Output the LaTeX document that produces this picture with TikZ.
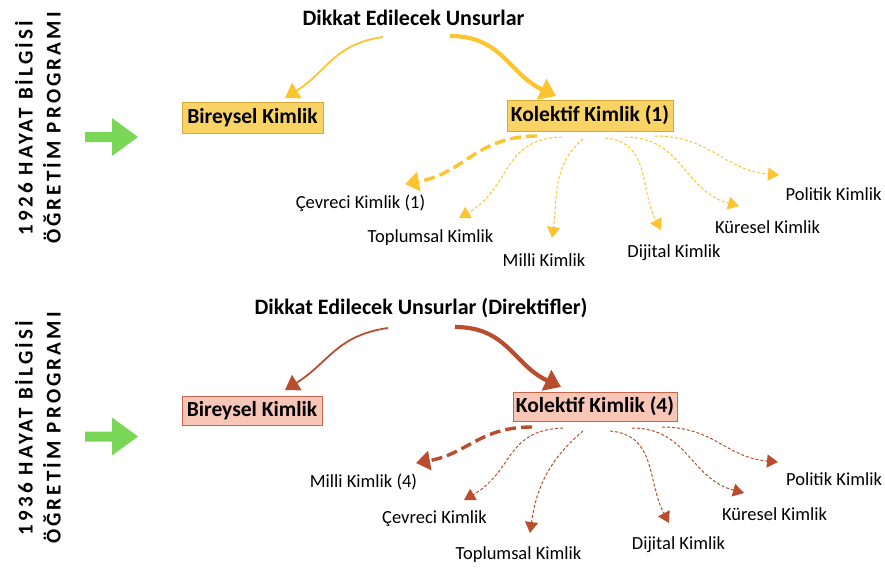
\documentclass[tikz,border=0pt]{standalone}
\usepackage{fontspec}
\setmainfont{Carlito}
\usetikzlibrary{arrows.meta}
\definecolor{gold}{RGB}{252,196,46}
\definecolor{goldfill}{RGB}{249,211,100}
\definecolor{goldline}{RGB}{214,168,58}
\definecolor{rust}{RGB}{184,78,46}
\definecolor{rustfill}{RGB}{248,198,182}
\definecolor{rustline}{RGB}{200,100,78}
\definecolor{grn}{RGB}{122,214,86}
\tikzset{
  ttl/.style={font=\fontsize{22}{24}\selectfont\bfseries, inner sep=0pt},
  lbl/.style={font=\fontsize{18.5}{21}\selectfont, inner sep=0pt},
  boxA/.style={draw=goldline, fill=goldfill, line width=0.8pt, minimum width=#1, minimum height=31pt, inner sep=0pt, font=\fontsize{21.5}{23}\selectfont\bfseries},
  boxB/.style={draw=rustline, fill=rustfill, line width=0.8pt, minimum width=#1, minimum height=29pt, inner sep=0pt, font=\fontsize{21.5}{23}\selectfont\bfseries},
  side/.style={rotate=90, align=center, inner sep=0pt, font=\fontsize{21}{28}\selectfont\bfseries\addfontfeature{LetterSpace=15}},
  thinA/.style={draw=#1, line width=1.8pt, -{Triangle[width=18pt,length=14pt]}},
  thickA/.style={draw=#1, line width=4.2pt, -{Triangle[width=22pt,length=16pt]}},
  thinD/.style={draw=#1, line width=1pt, dash pattern=on 3pt off 2pt, -{Triangle[width=13pt,length=11pt]}},
  thickD/.style={draw=#1, line width=3.4pt, dash pattern=on 11pt off 5pt, -{Triangle[width=19pt,length=14pt]}},
  garrow/.style={fill=grn, draw=none}
}
\begin{document}
\begin{tikzpicture}[x=1pt,y=1pt]
\useasboundingbox (0,0) rectangle (885,-567);
% left labels
\node[side] (s1) at (38,-128) {1926 HAYAT BİLGİSİ\\ÖĞRETİM PROGRAMI};
\node[side] (s2) at (38,-428) {1936 HAYAT BİLGİSİ\\ÖĞRETİM PROGRAMI};
\fill[garrow] (85,-132) -- (112,-132) -- (112,-118) -- (138,-137) -- (112,-156) -- (112,-142) -- (85,-142) -- cycle;
\fill[garrow] (85,-431.5) -- (112,-431.5) -- (112,-417.5) -- (138,-436.5) -- (112,-455.5) -- (112,-441.5) -- (85,-441.5) -- cycle;

% ---------- top ----------
\node[ttl] (t1) at (413.5,-18) {Dikkat Edilecek Unsurlar};
\node[boxA=141pt] (b1) at (252.5,-118) {Bireysel Kimlik};
\node[boxA=166pt] (k1) at (590,-115.5) {Kolektif Kimlik (1)};
\node[lbl] (c1) at (360.5,-203) {Çevreci Kimlik (1)};
\node[lbl] (p1) at (430.5,-238) {Toplumsal Kimlik};
\node[lbl] (m1) at (544,-260) {Milli Kimlik};
\node[lbl] (d1) at (674,-253) {Dijital Kimlik};
\node[lbl] (r1) at (767.5,-227) {Küresel Kimlik};
\node[lbl] (o1) at (833.5,-194) {Politik Kimlik};

\coordinate (t1l) at (383,-37);
\coordinate (t1r) at (450,-36);
\coordinate (b1t) at (285,-98);
\coordinate (k1t) at (556,-96);
\draw[thinA=gold] (t1l) to[out=188,in=32,looseness=1.1] (b1t);
\draw[thickA=gold] (t1r) to[out=0,in=155,looseness=1.1] (k1t);

\coordinate (k1a) at (537,-136);
\coordinate (k1b) at (562,-137);
\coordinate (k1c) at (583,-139);
\coordinate (k1d) at (605,-138);
\coordinate (k1e) at (625,-137);
\coordinate (k1f) at (655,-136);
\coordinate (c1t) at (405,-184);
\coordinate (p1t) at (459,-218);
\coordinate (m1t) at (552,-238);
\coordinate (d1t) at (661,-230);
\coordinate (r1t) at (739,-206);
\coordinate (o1t) at (779,-175);
\draw[thickD=gold] (k1a) to[out=180,in=10,looseness=1.1] (c1t);
\draw[thinD=gold] (k1b) to[out=182,in=30,looseness=1.2] (p1t);
\draw[thinD=gold] (k1c) to[out=220,in=82] (m1t);
\draw[thinD=gold] (k1d) to[out=-5,in=118,looseness=1.1] (d1t);
\draw[thinD=gold] (k1e) to[out=0,in=165,looseness=1.1] (r1t);
\draw[thinD=gold] (k1f) to[out=0,in=175,looseness=1.1] (o1t);

% ---------- bottom ----------
\node[ttl] (t2) at (421,-308) {Dikkat Edilecek Unsurlar (Direktifler)};
\node[boxB=140pt] (b2) at (252,-410.5) {Bireysel Kimlik};
\node[boxB=164pt] (k2) at (595,-406.5) {Kolektif Kimlik (4)};
\node[lbl] (m2) at (363.5,-482) {Milli Kimlik (4)};
\node[lbl] (c2) at (434.5,-519) {Çevreci Kimlik};
\node[lbl] (p2) at (518.5,-555) {Toplumsal Kimlik};
\node[lbl] (d2) at (678.5,-545) {Dijital Kimlik};
\node[lbl] (r2) at (774.5,-514) {Küresel Kimlik};
\node[lbl] (o2) at (834,-479) {Politik Kimlik};

\coordinate (t2l) at (388,-328);
\coordinate (t2r) at (455,-327);
\coordinate (b2t) at (285,-390);
\coordinate (k2t) at (561,-387);
\draw[thinA=rust] (t2l) to[out=188,in=32,looseness=1.1] (b2t);
\draw[thickA=rust] (t2r) to[out=0,in=155,looseness=1.1] (k2t);

\coordinate (k2a) at (532,-427);
\coordinate (k2b) at (563,-428);
\coordinate (k2c) at (583,-431);
\coordinate (k2d) at (610,-431);
\coordinate (k2e) at (632,-428);
\coordinate (k2f) at (662,-427);
\coordinate (m2t) at (416,-463);
\coordinate (c2t) at (464,-500);
\coordinate (p2t) at (530,-533);
\coordinate (d2t) at (669,-523);
\coordinate (r2t) at (744,-493);
\coordinate (o2t) at (778,-462);
\draw[thickD=rust] (k2a) to[out=180,in=10,looseness=1.1] (m2t);
\draw[thinD=rust] (k2b) to[out=182,in=30,looseness=1.2] (c2t);
\draw[thinD=rust] (k2c) to[out=220,in=82] (p2t);
\draw[thinD=rust] (k2d) to[out=-5,in=118,looseness=1.1] (d2t);
\draw[thinD=rust] (k2e) to[out=0,in=165,looseness=1.1] (r2t);
\draw[thinD=rust] (k2f) to[out=0,in=175,looseness=1.1] (o2t);
\end{tikzpicture}
\end{document}
